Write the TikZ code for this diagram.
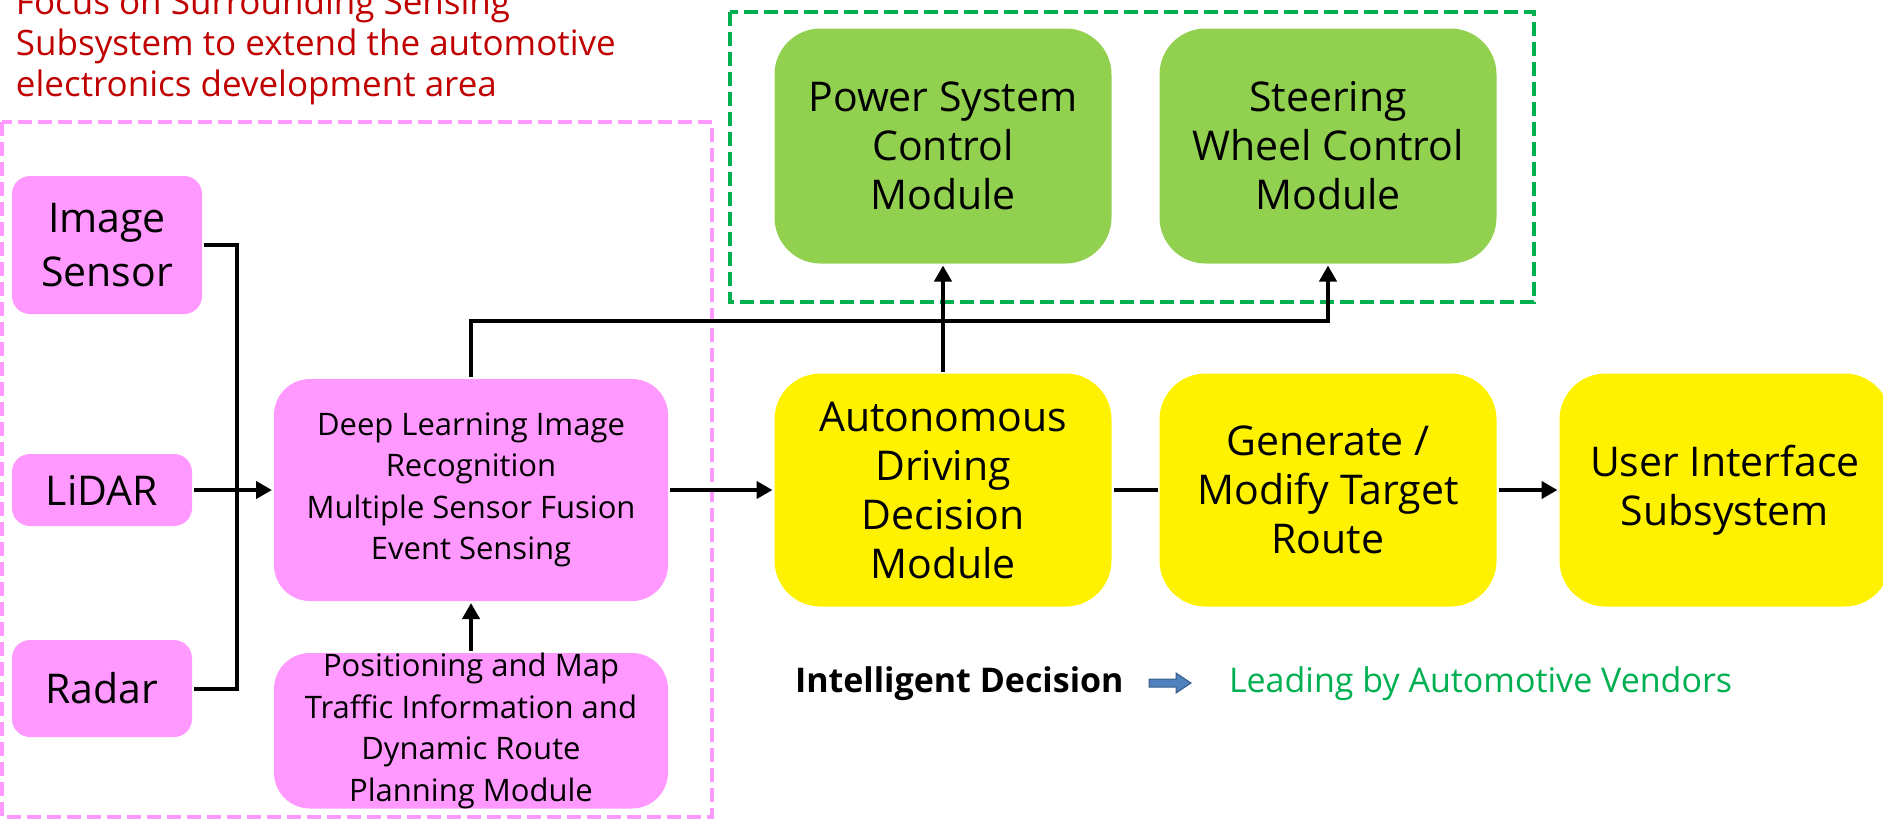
\documentclass[tikz,border=0pt]{standalone}
\usepackage{fontspec}
\setmainfont{Open Sans}
\usetikzlibrary{arrows.meta,positioning}
\definecolor{boxpink}{RGB}{255,153,255}
\definecolor{boxgreen}{RGB}{146,208,80}
\definecolor{framegreen}{RGB}{0,176,80}
\definecolor{notered}{RGB}{192,0,0}
\definecolor{arrowblue}{RGB}{79,129,189}
\definecolor{arrowedge}{RGB}{56,93,138}
\tikzstyle{every node}=[font=\fontsize{41}{49}\selectfont]

\begin{document}
\begin{tikzpicture}[->,>={Triangle[length=16pt,width=17pt]},x=1pt,y=-1pt,
                    line width=4pt,node distance=44pt]
  \tikzstyle{block}=[draw=none,align=center,inner sep=0pt]
  \tikzstyle{sensor}=[block,fill=boxpink,minimum width=180pt,minimum height=72pt,
                      rounded corners=18pt,font=\fontsize{41}{54}\selectfont]
  \tikzstyle{fusion}=[block,fill=boxpink,minimum width=394pt,rounded corners=36pt,
                      font=\fontsize{31}{41.5}\selectfont]
  \tikzstyle{actuator}=[block,fill=boxgreen,minimum width=337pt,minimum height=235pt,
                        rounded corners=46pt]
  \tikzstyle{decision}=[block,fill=yellow,minimum width=337pt,minimum height=233pt,
                        rounded corners=46pt]
  \tikzstyle{frame}=[-,dash pattern=on 14pt off 6pt,line width=4.5pt]
  \tikzstyle{caption}=[anchor=base west,inner sep=0pt,align=left]

  \useasboundingbox (0,0) rectangle (1883,822);

  \draw[frame,boxpink]    (2,122) rectangle (712,817);
  \draw[frame,framegreen] (730,12) rectangle (1534,302);

  \node[sensor]                   (lidar)  at (102,490) {LiDAR};
  \node[sensor,minimum width=190pt,minimum height=138pt]
                                  (camera) [above=136pt of lidar.north west,anchor=south west] {Image\\Sensor};
  \node[sensor,minimum height=97pt]
                                  (radar)  [below=110pt of lidar.south west,anchor=north west] {Radar};

  \node[fusion,minimum height=222pt] (fusion) at (471,490)
        {Deep Learning Image\\Recognition\\Multiple Sensor Fusion\\Event Sensing};
  \node[fusion,minimum height=151pt] (plan)   [below=48pt of fusion]
        {Positioning and Map\\Traffic Information and\\Dynamic Route\\Planning Module};

  \node[decision]                 (decide) at (943,490)        {Autonomous\\Driving\\Decision\\Module};
  \node[decision]                 (route)  [right=44pt of decide] {Generate /\\Modify Target\\Route};
  \node[decision,minimum width=331pt] (ui) [right=59pt of route]  {User Interface\\Subsystem};
  \node[actuator]                 (power)  [above=106pt of decide] {Power System\\Control\\Module};
  \node[actuator]                 (steer)  [above=106pt of route]  {Steering\\Wheel Control\\Module};

  \coordinate (bus) at (237,490);
  \draw[-] (camera) -| (bus) |- (radar);
  \draw (fusion.north) -- ++(0,-56) -| (steer);

  \path (lidar)  edge        (fusion)
        (plan)   edge        (fusion)
        (fusion) edge        (decide)
        (decide) edge        (power)
                 edge [-]    (route)
        (route)  edge        (ui);

  \node[caption,text=notered,font=\fontsize{35}{41}\selectfont] (focus) at (14,96)
        {Focus on Surrounding Sensing\\Subsystem to extend the automotive\\electronics development area};
  \node[caption,font=\fontsize{34}{40}\selectfont\bfseries] (intel) at (793,692) {Intelligent Decision};
  \node[caption,text=framegreen,font=\fontsize{34}{40}\selectfont] (vendor) at (1227,692)
        {Leading by Automotive Vendors};
  \filldraw[-,fill=arrowblue,draw=arrowedge,line width=1pt]
        (1149,679) -- (1176,679) -- (1176,673) -- (1191,683)
        -- (1176,693) -- (1176,687) -- (1149,687) -- cycle;
\end{tikzpicture}
\end{document}
